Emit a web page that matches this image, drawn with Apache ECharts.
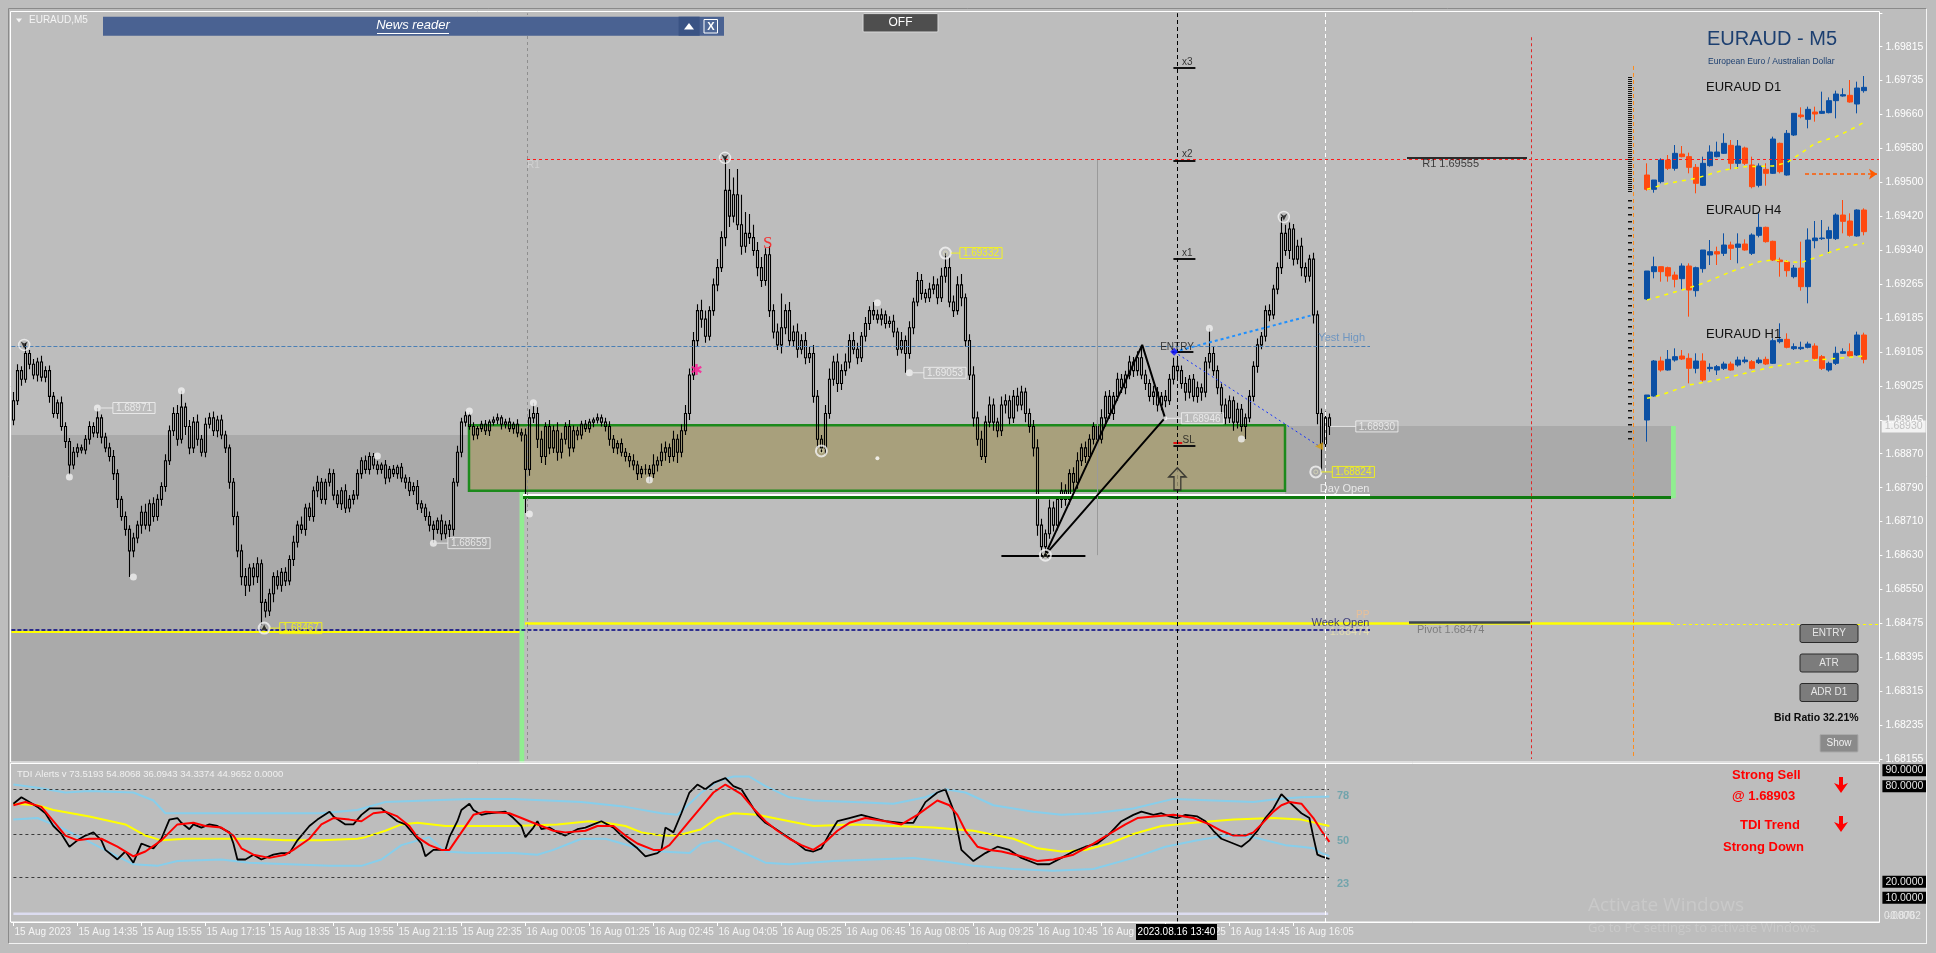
<!DOCTYPE html>
<html><head><meta charset="utf-8">
<script src="https://cdn.jsdelivr.net/npm/echarts@6/dist/echarts.min.js"></script>
<style>html,body{margin:0;padding:0;background:#bdbdbd;overflow:hidden}#c{width:1936px;height:953px}</style>
</head><body><div id="c"></div>
<script>
// ---------- DATA (prices in points above 1.68000) ----------
const BASE = 1.68;
const firstOpen = 945;
const closes = [
990,1060,1040,1100,1075,1050,1080,1045,1060,1000,
960,985,930,895,840,870,880,875,900,930,
915,950,905,880,860,820,760,720,690,640,
670,700,730,700,750,720,760,790,850,920,
960,900,975,930,880,940,900,870,935,950,
920,945,910,880,800,720,640,580,560,600,
580,610,520,500,540,580,560,590,570,620,
660,700,690,740,720,780,800,760,800,820,
770,750,780,740,760,770,820,850,830,860,
840,830,840,810,830,820,835,810,800,780,
790,750,740,720,700,690,710,680,700,690,
800,870,940,955,930,910,925,935,920,940,
945,950,935,940,925,935,915,910,830,950,
960,900,860,930,880,920,870,900,930,880,
920,910,935,925,940,945,950,940,930,900,
880,890,870,860,850,840,820,830,830,820,
840,850,870,880,860,900,870,920,960,1050,
1130,1200,1180,1140,1200,1260,1300,1370,1480,1420,
1470,1400,1350,1380,1370,1340,1300,1270,1330,1200,
1150,1120,1160,1200,1130,1150,1110,1130,1090,1100,
1000,900,880,960,1040,1080,1030,1060,1080,1130,
1110,1090,1140,1170,1200,1190,1180,1190,1170,1175,
1150,1110,1130,1100,1160,1220,1270,1240,1230,1250,
1260,1230,1280,1300,1220,1200,1260,1230,1130,1050,
950,900,860,940,980,940,920,980,990,950,
1000,980,1010,960,930,880,700,650,680,740,
700,760,780,760,820,800,850,880,860,900,
930,900,950,1000,960,1000,1040,1020,1050,1080,
1060,1090,1050,1030,1000,1010,980,1000,990,1040,
1070,1060,1030,1010,1040,1000,1020,1010,1080,1100,
1060,1020,980,950,990,940,970,930,950,1000,
1070,1120,1140,1200,1190,1250,1300,1380,1340,1390,
1320,1350,1300,1280,1320,1190,960,890,950,930
];
const upperWicks = [
20,15,10,24,8,12,10,15,10,12, 10,8,15,10,8,12,10,8,10,12, 10,23,8,10,12,15,10,8,12,10,
12,10,15,20,10,15,12,10,15,12, 15,20,38,10,15,12,18,10,15,12, 15,10,12,10,8,10,12,15,20,10,
12,15,10,8,12,10,15,10,12,10, 15,10,20,10,12,10,15,10,8,12, 10,12,8,15,10,12,10,8,12,10,
8,10,6,12,8,10,6,10,8,12, 10,15,8,10,12,10,8,15,10,12, 10,15,10,10,8,10,6,8,10,6,
8,10,6,8,10,6,12,10,15,20, 25,15,20,10,15,12,20,15,10,15, 12,10,8,10,8,6,10,8,10,12,
10,8,12,10,8,15,10,8,12,10, 25,10,20,15,10,20,12,15,20,15, 20,15,25,20,10,15,20,15,76,50,
40,60,70,50,45,30,20,25,15,20, 15,20,80,15,20,15,20,15,20,15, 20,15,10,20,25,15,20,15,20,15,
20,15,10,15,10,20,12,15,10,12, 15,10,20,12,15,10,20,15,10,15, 20,15,20,33,25,15,20,25,10,15,
20,15,20,15,20,15,10,20,15,12, 15,20,15,10,12,15,20,15,10,20, 15,10,20,15,10,15,20,10,15,12,
10,15,20,12,15,10,15,12,10,15, 12,15,30,12,10,15,12,10,15,12, 20,15,12,15,10,12,15,10,12,59,
15,12,10,15,12,10,15,12,10,15, 12,15,10,12,15,10,12,38,20,15, 12,15,20,12,10,15,10,12,15,10
];
const lowerWicks = [
12,10,15,8,12,10,15,10,12,15, 10,12,10,15,23,10,12,8,10,12, 10,12,15,10,12,15,20,10,15,61,
15,12,20,10,15,12,10,15,12,10, 12,15,10,20,15,12,15,10,12,10, 12,15,10,12,15,20,15,20,25,15,
20,15,53,15,12,20,10,15,12,10, 15,12,10,15,10,12,15,10,12,10, 12,10,15,12,10,12,10,12,10,12,
10,12,10,15,10,8,12,10,15,12, 10,15,12,10,15,31,10,15,12,20, 15,10,12,10,8,12,10,8,10,12,
8,10,12,10,8,12,10,15,102,15, 12,20,15,20,15,12,20,15,12,20, 10,12,10,8,10,12,8,10,12,15,
12,15,10,12,15,12,15,10,12,20, 10,15,12,20,15,12,25,12,10,15, 12,15,20,15,10,12,15,10,20,25,
15,12,20,15,15,12,20,15,12,15, 15,12,20,15,12,15,20,12,15,12, 15,20,10,15,12,15,20,15,12,15,
12,15,10,12,15,12,10,15,12,10, 12,15,10,45,12,15,10,15,12,10, 12,15,10,15,12,15,10,20,15,12,
20,15,8,15,12,20,15,12,20,15, 12,15,12,20,15,20,25,20,20,12, 15,12,20,15,12,20,15,12,15,10,
12,15,10,20,12,15,10,12,15,10, 15,12,10,15,12,20,15,12,15,10, 12,15,12,20,15,12,15,20,12,15,
12,15,20,15,12,20,15,12,29,10, 12,15,10,12,15,10,12,15,12,20, 15,12,20,15,12,20,25,66,15,20
];
const priceTicks = ['1.68155','1.68235','1.68315','1.68395','1.68475','1.68550','1.68630','1.68710','1.68790','1.68870','1.68945','1.69025','1.69105','1.69185','1.69265','1.69340','1.69420','1.69500','1.69580','1.69660','1.69735','1.69815'];
const timeTicks = ['15 Aug 2023','15 Aug 14:35','15 Aug 15:55','15 Aug 17:15','15 Aug 18:35','15 Aug 19:55','15 Aug 21:15','15 Aug 22:35','16 Aug 00:05','16 Aug 01:25','16 Aug 02:45','16 Aug 04:05','16 Aug 05:25','16 Aug 06:45','16 Aug 08:05','16 Aug 09:25','16 Aug 10:45','16 Aug 12:05','16 Aug 13:25','16 Aug 14:45','16 Aug 16:05'];
const currentPrice = 1.68930;

// TDI readings [bar, value]
const tdiBlack = [[0,69],[2,73],[4,70],[6,67],[8,63],[10,55],[12,50],[14,42],[16,46],[18,49],[20,51],[22,46],[23,40],[26,34],[28,39],[30,32],[32,44],[35,41],[37,47],[39,59],[41,60],[42,57],[44,53],[45,56],[47,54],[49,56],[51,55],[54,51],[55,44],[56,34],[58,34],[60,37],[62,34],[65,37],[67,38],[69,38],[71,46],[74,55],[76,59],[79,64],[80,61],[83,56],[85,56],[87,62],[89,66],[92,66],[94,62],[96,58],[98,56],[100,50],[102,44],[103,36],[105,40],[107,40],[108,40],[109,48],[111,58],[112,65],[114,69],[115,65],[117,62],[119,63],[123,64],[125,60],[127,55],[128,48],[130,54],[131,58],[132,53],[134,54],[136,51],[138,49],[141,53],[143,54],[145,56],[147,58],[150,54],[152,49],[154,45],[156,41],[158,36],[161,38],[162,40],[163,54],[165,51],[167,63],[169,76],[171,81],[173,78],[175,82],[178,85],[180,80],[182,78],[184,70],[186,62],[188,57],[190,54],[193,49],[196,44],[198,40],[200,39],[202,41],[204,50],[206,58],[209,60],[212,62],[215,60],[218,58],[222,57],[225,57],[228,70],[231,76],[233,78],[235,65],[237,40],[240,33],[243,38],[246,42],[249,40],[252,35],[256,31],[259,31],[262,35],[265,39],[268,42],[271,44],[274,50],[277,58],[280,62],[282,64],[285,62],[287,63],[289,61],[291,60],[293,62],[296,61],[298,58],[300,52],[302,47],[305,44],[307,42],[309,46],[311,52],[313,60],[315,66],[317,75],[319,70],[322,63],[324,60],[325,48],[326,37],[327,36],[329,34.3]];
const tdiRed = [[0,68],[3,70],[7,67],[10,58],[13,49],[16,46],[19,47],[22,47],[26,42],[30,36],[33,39],[37,46],[41,56],[45,57],[48,55],[52,54],[55,49],[57,41],[60,37],[64,35],[68,37],[70,40],[74,47],[77,56],[80,60],[84,59],[87,58],[90,63],[93,64],[96,61],[99,55],[101,48],[104,43],[107,40],[109,40],[112,51],[115,62],[118,64],[124,63],[127,60],[129,58],[132,55],[135,52],[138,51],[143,52],[146,55],[150,55],[153,49],[156,44],[160,40],[162,40],[164,43],[166,49],[169,58],[172,67],[175,76],[178,81],[182,75],[185,66],[188,58],[191,52],[194,47],[197,43],[200,40],[203,45],[206,52],[209,57],[213,60],[218,58],[222,56],[226,62],[231,71],[234,68],[236,62],[238,52],[241,42],[244,40],[247,39],[252,36],[256,33],[260,34],[265,37],[270,44],[274,50],[278,56],[281,60],[285,61],[290,62],[295,60],[299,56],[302,52],[305,49],[308,49],[310,51],[312,56],[315,64],[317,68],[319,70],[322,69],[325,60],[327,52],[329,45]];
const tdiYellow = [[0,69],[6,68],[10,65],[19,61],[28,56],[33,49],[37,46],[43,47],[52,47],[59,47],[68,46],[77,46],[86,47],[88,48],[93,52],[97,56],[101,57],[108,55],[115,55],[125,55],[136,56],[144,58],[148,57],[153,55],[157,51],[162,49],[166,49],[172,53],[176,60],[180,63],[186,62],[194,58],[200,55],[210,56],[220,55],[230,54],[240,52],[250,47],[256,41],[262,39],[268,40],[274,44],[280,50],[287,55],[295,57],[305,59],[315,60],[322,59],[329,55]];
const tdiUpper = [[0,81],[6,79],[13,76],[19,77],[30,76],[35,71],[38,63],[47,63],[59,63],[69,63],[77,63],[86,65],[93,70],[103,71],[114,72],[125,72],[142,70],[153,67],[162,63],[166,62],[169,69],[172,76],[176,83],[180,86],[184,86],[188,80],[194,73],[200,71],[210,70],[220,69],[228,73],[233,78],[238,76],[245,68],[255,64],[262,62],[270,63],[280,66],[290,72],[300,71],[310,70],[316,72],[322,73],[329,73.5]];
const tdiLower = [[0,59],[6,60],[11,55],[19,45],[26,36],[30,31],[36,30],[41,33],[52,34],[59,32],[69,31],[79,30],[87,30],[92,34],[97,43],[104,48],[108,39],[114,38],[125,38],[131,37],[135,40],[142,47],[148,47],[155,42],[162,39],[169,38],[172,44],[176,46],[182,39],[188,32],[194,31],[205,33],[215,34],[225,35],[232,33],[240,30],[250,28],[260,27],[270,28],[280,35],[288,42],[296,46],[303,49],[310,48],[318,43],[322,42],[325,41],[327,38],[329,36]];
const tdiZero = [[0,0],[328.7,0]];

// mini charts [open, close, low, high] in relative levels
const d1Candles = [[675,632,628,710],[632,660,622,660],[655,720,650,725],[720,695,690,735],[695,740,688,765],[738,730,728,762],[730,698,680,742],[698,650,620,708],[644,710,642,730],[703,744,700,764],[730,744,728,775],[740,770,738,800],[764,710,692,780],[710,762,694,780],[756,710,705,760],[705,640,635,730],[644,702,638,710],[692,680,643,710],[680,783,678,790],[770,685,680,772],[675,800,673,810],[795,860,792,860],[855,850,845,878],[842,872,815,880],[864,858,835,880],[860,866,858,925],[862,898,860,908],[898,918,845,928],[912,916,910,935],[914,894,892,960],[888,936,860,955],[928,938,922,972]];
const h4Candles = [[303,387,300,387],[385,400,365,430],[400,385,355,400],[397,372,355,400],[375,362,338,385],[364,402,332,410],[402,330,250,410],[328,397,310,400],[394,450,382,450],[435,445,405,480],[445,438,405,460],[440,465,432,500],[465,455,420,475],[458,468,410,500],[468,450,448,482],[440,495,435,500],[494,518,488,560],[518,475,472,520],[476,420,417,478],[420,415,370,427],[414,388,370,420],[370,396,365,405],[396,340,328,475],[340,480,290,515],[478,486,455,537],[484,486,480,540],[485,508,440,520],[484,555,480,560],[555,536,500,600],[537,494,490,560],[492,570,490,572],[570,505,494,575]];
const h1Candles = [[-60,15,-125,15],[12,117,10,120],[117,90,85,130],[90,122,88,150],[120,130,115,155],[132,123,120,150],[125,95,50,140],[95,117,80,140],[117,60,55,140],[94,98,85,110],[90,100,75,105],[95,108,90,115],[108,90,88,115],[105,120,100,130],[115,120,110,130],[115,95,92,120],[112,120,108,128],[122,108,105,130],[110,178,108,185],[175,182,170,230],[182,158,155,200],[154,160,150,170],[154,158,150,175],[158,168,155,175],[162,125,120,170],[130,95,90,135],[90,110,85,115],[110,140,105,160],[140,145,138,155],[145,132,130,170],[135,195,132,205],[195,122,110,202]];
const d1Ma = [[0,632],[3,650],[7,665],[11,690],[14,700],[18,702],[20,712],[22,740],[24,770],[27,790],[29,810],[31,833]];
const h4Ma = [[0,300],[5,330],[8,350],[12,385],[16,415],[18,420],[22,412],[24,427],[27,450],[29,462],[31,470]];
const h1Ma = [[0,5],[2,15],[6,45],[10,60],[14,80],[18,100],[23,118],[30,130],[31,132]];

// ---------- BUILD ----------
const P = v => +(BASE + v / 1e5).toFixed(5);
const candles = closes.map((c, i) => {
  const o = i === 0 ? firstOpen : closes[i - 1];
  return [P(o), P(c), P(Math.min(o, c) - lowerWicks[i]), P(Math.max(o, c) + upperWicks[i])];
});
const NCAT = 467;
const cats = Array.from({length: NCAT}, (_, i) => 'b' + i);
const showTime = i => i % 16 === 0 && i / 16 < timeTicks.length;
const YMIN = 1.68155, YMAX = 1.69893, YINT = 0.0166 / 21;
const NOLINE = {color: 'rgba(0,0,0,0)', width: 1};

const seg = (x1, y1, x2, y2, ls, label) => [{coord: [x1, y1], lineStyle: ls, label: label || {show: false}}, {coord: [x2, y2]}];
const area = (x1, y1, x2, y2, st) => [{coord: [x1, y1], itemStyle: st}, {coord: [x2, y2]}];

const mainLines = [
  seg(-0.5, 1.69118, 339.15, 1.69118, {color: '#4a7fb5', type: [4, 2], width: 1}),
  seg(128.4, 1.69552, 466.5, 1.69552, {color: '#ff1a1a', type: [3, 3], width: 1}),
  seg(348.4, 1.69556, 378.4, 1.69556, {color: '#2a2a2a', type: 'solid', width: 2}),
  seg(127.4, 1.68765, 414.4, 1.68765, {color: '#0f7a0f', type: 'solid', width: 3}),
  seg(127.4, 1.68770, 339.15, 1.68770, {color: '#ffffff', type: 'solid', width: 2}),
  seg(-0.5, 1.68451, 126.55, 1.68451, {color: '#ffff00', type: 'solid', width: 2}),
  seg(127.9, 1.68472, 414.4, 1.68472, {color: '#ffff00', type: 'solid', width: 2.5}),
  seg(414.4, 1.68468, 466.5, 1.68468, {color: '#ffff00', type: [3, 3], width: 1}),
  seg(348.9, 1.68473, 379.2, 1.68473, {color: '#3c4650', type: 'solid', width: 2.5}),
  seg(-0.5, 1.68456, 339.15, 1.68456, {color: '#000080', type: [4, 2], width: 1.5}),
  seg(379.4, 1.69837, 379.4, YMIN, {color: '#e02828', type: [3, 3], width: 1}),
  seg(405, 1.69770, 405, YMIN, {color: '#ff8c1a', type: [4, 3], width: 1}),
  seg(271.05, 1.69551, 271.05, 1.68630, {color: '#9a9a9a', type: 'solid', width: 1}),
  seg(247, 1.68629, 268, 1.68629, {color: '#000', type: 'solid', width: 2}),
  seg(290, 1.69765, 295.5, 1.69765, {color: '#111', type: 'solid', width: 2}),
  seg(290, 1.69550, 295.5, 1.69550, {color: '#111', type: 'solid', width: 2}),
  seg(290, 1.69320, 295.5, 1.69320, {color: '#111', type: 'solid', width: 2}),
  seg(289.7, 1.69104, 295, 1.69104, {color: '#111', type: 'solid', width: 2}),
  seg(290, 1.68891, 292.2, 1.68891, {color: '#e01010', type: 'solid', width: 2}),
  seg(290, 1.68885, 295.5, 1.68885, {color: '#111', type: 'solid', width: 2}),
  seg(290.2, 1.69104, 325, 1.69190, {color: '#1e90ff', type: [3, 3], width: 2}),
  seg(290.2, 1.69104, 326.4, 1.68884, {color: '#1030ff', type: [2, 3], width: 1}),
  [{coord: [447.9, 1.69518], lineStyle: {color: '#ff5a00', type: [4, 3], width: 1.5}, symbol: 'none', label: {show: false}}, {coord: [465.9, 1.69518], symbol: 'arrow', symbolSize: 8}],
  {xAxis: 128.4, lineStyle: {color: '#8e8e8e', type: [3, 3], width: 1}},
  {xAxis: 290.9, lineStyle: {color: '#000', type: [4, 3], width: 1}},
  {xAxis: 327.85, lineStyle: {color: '#ffffff', type: [4, 3], width: 1}}
];

const mainAreas = [
  area(-0.5, YMIN, 126.55, 1.68910, {color: '#aaaaaa'}),
  area(126.55, YMIN, 127.72, 1.68910, {color: '#90ee90'}),
  area(317.9, 1.68763, 414.4, 1.68931, {color: '#aaaaaa'}),
  area(414.4, 1.68763, 415.6, 1.68931, {color: '#90ee90'}),
  area(113.9, 1.68780, 317.9, 1.68933, {color: '#a8a07c', borderColor: '#1c8a1c', borderWidth: 2.5})
];

const whiteDots = [[14,1.68812],[30,1.68579],[42,1.69013],[91,1.68861],[114,1.68966],[129,1.68726],[130,1.68985],[159,1.68805],[216,1.69218],[299,1.69159],[307,1.68901],[21,1.68973],[105,1.68658],[224,1.69055]];
const smallDots = [[288,1.68949],[216,1.68856]];
const rings = [[202,1.68873],[233,1.69334],[325.6,1.68824],[258,1.68630],[62.7,1.68460]];
const downMarks = [[2.7,1.69120],[177.9,1.69556],[317.6,1.69418]];
const upMarks = [[62.7,1.68460],[258,1.68630]];

function priceBox(at, text, col, conn, off) {
  return {value: at, label: {position: [off, 0], formatter: '{l|}{b|' + text + '}',
    rich: {l: {width: conn, height: 1, backgroundColor: col},
           b: {color: col, borderColor: col, borderWidth: 1, padding: [1, 3, 0, 3], fontSize: 10, lineHeight: 12}}}};
}
const boxLabels = [
  priceBox([21,1.68973], '1.68971', '#f4f4f4', 12, 3.5),
  priceBox([105,1.68658], '1.68659', '#f4f4f4', 11, 3.5),
  priceBox([224,1.69055], '1.69053', '#f4f4f4', 11, 3.5),
  priceBox([288,1.68949], '1.68946', '#f4f4f4', 14, 2),
  priceBox([233,1.69334], '1.69332', '#ffff00', 9, 5.5),
  priceBox([325.6,1.68824], '1.68824', '#ffff00', 11, 5.5),
  priceBox([62.7,1.68460], '1.68467', '#ffff00', 10, 5.5),
  priceBox([329.1,currentPrice], currentPrice.toFixed(5), '#f4f4f4', 26, 0)
];

function txt(at, t, c, align, fs, extra) {
  return {value: at, label: Object.assign({formatter: t, color: c, align: align, fontSize: fs}, extra || {})};
}
const mainTexts = [
  txt([337.9,1.69136], 'Yest High', '#5b8cc2', 'right', 11),
  txt([339,1.68784], 'Day Open', '#f8f8f8', 'right', 11),
  txt([339,1.68473], 'Week Open', '#1c1c6c', 'right', 11),
  txt([339,1.68451], '1.68474', 'rgba(240,232,170,0.85)', 'right', 11),
  txt([339,1.68491], 'PP', '#f2c090', 'right', 10),
  txt([128.4,1.69538], 'R1', '#d6d6d6', 'left', 10),
  txt([352.2,1.69541], 'R1 1.69555', '#1a1a1a', 'left', 11),
  txt([350.9,1.68456], 'Pivot 1.68474', '#6e6e6e', 'left', 11),
  txt([293.5,1.69779], 'x3', '#111', 'center', 10),
  txt([293.5,1.69564], 'x2', '#111', 'center', 10),
  txt([293.5,1.69334], 'x1', '#111', 'center', 10),
  txt([290.9,1.69115], 'ENTRY', '#111', 'center', 10),
  txt([292.3,1.68898], 'SL', '#111', 'left', 10),
  txt([170.8,1.69058], '✱', '#ff1493', 'center', 15, {fontFamily: 'DejaVu Sans'}),
  txt([188.6,1.69357], 'S', '#ff1010', 'center', 17, {fontFamily: 'Liberation Serif'})
];
// current-price tag on the price scale (just right of the plot edge)
const axisTag = [txt([467.07, currentPrice], currentPrice.toFixed(5), '#b4b4b4', 'left', 10.5,
  {backgroundColor: '#ffffff', padding: [1, 3, 0, 3]})];
const tdiTexts = [
  txt([330.9,74.0], '78', '#5f9ea8', 'left', 11, {fontWeight: 'bold'}),
  txt([330.9,45.8], '50', '#5f9ea8', 'left', 11, {fontWeight: 'bold'}),
  txt([330.9,18.6], '23', '#5f9ea8', 'left', 11, {fontWeight: 'bold'})
];

const lvl = (v) => seg(0, v, 328.9, v, {color: '#3a3a3a', type: [3, 3], width: 1});
const rLab = (v, t) => ({yAxis: v, lineStyle: NOLINE, label: {show: true, position: 'end', distance: 3, formatter: t, backgroundColor: '#000', color: '#e6e6e6', padding: [1, 3, 0, 3], fontSize: 10.5}});

// ---------- GRAPHIC (UI chrome) ----------
const F = 'Liberation Sans';
const T = (x, y, text, fill, size, opts) => Object.assign({type: 'text', z: 100, x: x, y: y,
  style: Object.assign({text: text, fill: fill, font: (opts && opts.w ? opts.w + ' ' : '') + size + 'px ' + ((opts && opts.f) || F),
    align: (opts && opts.a) || 'left', textAlign: (opts && opts.a) || 'left', verticalAlign: 'middle', textVerticalAlign: 'middle'})});
const L = (x1, y1, x2, y2, c, w, dash) => ({type: 'line', z: 100, shape: {x1, y1, x2, y2}, style: {stroke: c, lineWidth: w || 1, lineDash: dash || null}});
const R = (x, y, w, h, fill, stroke, r, z) => ({type: 'rect', z: z == null ? 100 : z, shape: {x, y, width: w, height: h, r: r || 0}, style: {fill: fill, stroke: stroke || null, lineWidth: 1}});
const arrowDown = (cx, ty) => ({type: 'polygon', z: 100, shape: {points: [[cx-2,ty],[cx+2,ty],[cx+2,ty+8],[cx+7,ty+6],[cx,ty+16],[cx-7,ty+6],[cx-2,ty+8]]}, style: {fill: '#ff0000'}});

const graphics = [
  R(11.4, 759, 508.2, 3.5, '#aaaaaa', null, 0, 0),
  R(519.6, 759, 4.7, 3.5, '#90ee90', null, 0, 0),
  L(8.5, 8.5, 1927, 8.5, '#8a8a8a'), L(8.5, 8.5, 8.5, 944, '#8a8a8a'),
  L(1926.5, 8.5, 1926.5, 944, '#f2f2f2'), L(8.5, 943.5, 1926.5, 943.5, '#f2f2f2'),
  R(10.5, 11.5, 1869, 750.5, null, '#ffffff'),
  R(10.5, 763.5, 1869, 158.5, null, '#ffffff'),
  {type: 'polygon', z: 100, shape: {points: [[16,18.5],[22,18.5],[19,22.5]]}, style: {fill: '#f4f4f4'}},
  T(29, 20.7, 'EURAUD,M5', '#f4f4f4', 10),
  R(103, 16.7, 621, 19, '#4a6292'),
  R(678.6, 16.7, 21, 19, '#3a5384'),
  {type: 'polygon', z: 101, shape: {points: [[684,29.5],[694,29.5],[689,23]]}, style: {fill: '#ffffff'}},
  R(704, 19.5, 13.5, 13.5, '#4f6897', '#ffffff'),
  T(710.8, 26.5, 'X', '#ffffff', 11, {a: 'center', w: 'bold'}),
  T(413, 25.6, 'News reader', '#ffffff', 13, {a: 'center', w: 'italic'}),
  L(377, 33.5, 449, 33.5, '#ffffff', 1),
  R(863, 13.6, 75, 18.4, '#4e4e4e', '#d8d8d8', 1),
  T(900.5, 23, 'OFF', '#ffffff', 12, {a: 'center'}),
  T(1707, 39, 'EURAUD - M5', '#1c3f70', 20),
  T(1708, 61.4, 'European Euro / Australian Dollar', '#1c3f70', 8.5),
  T(1706, 87, 'EURAUD D1', '#111111', 13),
  T(1706, 210, 'EURAUD H4', '#111111', 13),
  T(1706, 334, 'EURAUD H1', '#111111', 13),
  L(1630, 77, 1630, 193, '#111111', 4, [1, 1]),
  L(1630, 200, 1630, 442, '#111111', 4, [1.5, 5.5]),
  R(1800, 624.5, 58, 18, '#7c7c7c', '#2a2a2a', 2), T(1829, 633.5, 'ENTRY', '#e6e6e6', 10, {a: 'center'}),
  R(1800, 654, 58, 18, '#7c7c7c', '#2a2a2a', 2), T(1829, 663, 'ATR', '#e6e6e6', 10, {a: 'center'}),
  R(1800, 683.5, 58, 18, '#7c7c7c', '#2a2a2a', 2), T(1829, 692.5, 'ADR D1', '#e6e6e6', 10, {a: 'center'}),
  T(1774, 718.6, 'Bid Ratio 32.21%', '#0a0a0a', 10.5, {w: 'bold'}),
  R(1820, 734.5, 38, 17.5, '#8a8a8a', '#aaaaaa', 1), T(1839, 743.3, 'Show', '#f0f0f0', 10, {a: 'center'}),
  T(17, 774.3, 'TDI Alerts v 73.5193 54.8068 36.0943 34.3374 44.9652 0.0000', '#f0f0f0', 9.5),
  T(1732, 775, 'Strong Sell', '#ff0000', 13, {w: 'bold'}),
  T(1732, 796.7, '@ 1.68903', '#ff0000', 13, {w: 'bold'}),
  T(1740, 825, 'TDI Trend', '#ff0000', 13, {w: 'bold'}),
  T(1723, 847.3, 'Strong Down', '#ff0000', 13, {w: 'bold'}),
  arrowDown(1841, 777), arrowDown(1841, 816),
  T(1884, 916, '0.0000', '#e8e8e8', 10), T(1887, 916, '-0.8762', '#e8e8e8', 10),
  R(1136, 924, 81, 16, '#000000'),
  T(1176.5, 932.3, '2023.08.16 13:40', '#ffffff', 10, {a: 'center'}),
  T(1588, 906, 'Activate Windows', '#c9c9c9', 19, {f: 'Open Sans'}),
  T(1588, 928, 'Go to PC settings to activate Windows.', '#c9c9c9', 13, {f: 'Open Sans'})
];

const hidden = {show: false};
const option = {
  animation: false,
  backgroundColor: '#bdbdbd',
  textStyle: {fontFamily: F},
  grid: [
    {left: 11.4, top: 13.2, width: 1868, height: 745.8, containLabel: false, outerBoundsMode: 'none'},
    {left: 11.4, top: 763, width: 1868, height: 159, containLabel: false, outerBoundsMode: 'none'},
    {left: 1643.5, top: 60, width: 224, height: 390, containLabel: false, outerBoundsMode: 'none'}
  ],
  xAxis: [
    {type: 'category', gridIndex: 0, data: cats, boundaryGap: true, show: false},
    {type: 'value', gridIndex: 0, min: -0.5, max: 466.5, show: false},
    {type: 'category', gridIndex: 1, data: cats, boundaryGap: true, position: 'bottom',
      axisLine: {show: true, onZero: false, lineStyle: {color: '#ffffff', width: 1}},
      axisTick: {show: true, length: 4, alignWithLabel: true, interval: (i) => showTime(i), lineStyle: {color: '#ffffff'}},
      axisLabel: {show: true, interval: (i) => showTime(i), formatter: (v, i) => showTime(i) ? timeTicks[i / 16] : '', align: 'left', color: '#f4f4f4', fontSize: 10, margin: 5, padding: [0, 0, 0, 1]},
      splitLine: hidden},
    {type: 'value', gridIndex: 1, min: -0.5, max: 466.5, show: false},
    {type: 'category', gridIndex: 2, data: d1Candles.map((_, i) => 'm' + i), boundaryGap: true, show: false}
  ],
  yAxis: [
    {type: 'value', gridIndex: 0, position: 'right', min: YMIN, max: YMAX, interval: YINT, scale: true,
      axisLine: {show: false, onZero: false}, splitLine: hidden,
      axisTick: {show: true, inside: false, length: 3, lineStyle: {color: '#ffffff'}},
      axisLabel: {show: true, color: '#ffffff', fontSize: 10.5, margin: 6, formatter: (v) => {
        const k = Math.round((v - YMIN) / YINT);
        return (k >= 0 && k < priceTicks.length && Math.abs(v - (YMIN + k * YINT)) < YINT / 10) ? priceTicks[k] : '';
      }}},
    {type: 'value', gridIndex: 1, position: 'right', min: -5.21, max: 94.51, show: false, axisLine: {onZero: false}},
    {type: 'value', gridIndex: 2, min: -150, max: 1020, show: false, axisLine: {onZero: false}}
  ],
  series: [
    {type: 'line', name: 'areas', xAxisIndex: 1, yAxisIndex: 0, data: [[-5, 1.689]], showSymbol: false, lineStyle: {opacity: 0},
      markArea: {silent: true, z: 1, data: mainAreas}},
    {type: 'candlestick', name: 'EURAUD,M5', xAxisIndex: 0, yAxisIndex: 0, data: candles, barWidth: 3, z: 3,
      itemStyle: {color: 'rgba(0,0,0,0)', color0: 'rgba(0,0,0,0)', borderColor: '#000', borderColor0: '#000', borderColorDoji: '#000', borderWidth: 1.1}},
    {type: 'line', name: 'lines', xAxisIndex: 1, yAxisIndex: 0, data: [[-5, 1.689]], showSymbol: false, lineStyle: {opacity: 0},
      markLine: {silent: true, symbol: ['none', 'none'], z: 5, label: {show: false}, data: mainLines}},
    {type: 'line', name: 'abc', xAxisIndex: 1, yAxisIndex: 0, z: 5, showSymbol: false,
      data: [[257.9,1.68630],[282.2,1.69120],[287.9,1.68950],[257.9,1.68630]], lineStyle: {color: '#000', width: 2}},
    {type: 'scatter', xAxisIndex: 1, yAxisIndex: 0, z: 6, data: whiteDots, symbolSize: 7, itemStyle: {color: '#f0f0f0'}},
    {type: 'scatter', xAxisIndex: 1, yAxisIndex: 0, z: 6, data: smallDots, symbolSize: 4, itemStyle: {color: '#ffffff'}},
    {type: 'scatter', xAxisIndex: 1, yAxisIndex: 0, z: 6, data: rings, symbolSize: 11, itemStyle: {color: 'rgba(0,0,0,0)', borderColor: '#f4f4f4', borderWidth: 2}},
    {type: 'scatter', xAxisIndex: 1, yAxisIndex: 0, z: 6, data: rings, symbolSize: 4, itemStyle: {color: 'rgba(0,0,0,0)', borderColor: '#d8d8b8', borderWidth: 1}},
    {type: 'scatter', xAxisIndex: 1, yAxisIndex: 0, z: 6, data: downMarks, symbolSize: 11, itemStyle: {color: 'rgba(0,0,0,0)', borderColor: '#f4f4f4', borderWidth: 1.5}},
    {type: 'scatter', xAxisIndex: 1, yAxisIndex: 0, z: 7, data: downMarks, symbol: 'path://M0,0 L5,3 L10,0 L5,10 Z', symbolSize: 7, itemStyle: {color: '#111'}},
    {type: 'scatter', xAxisIndex: 1, yAxisIndex: 0, z: 7, data: upMarks, symbol: 'path://M0,10 L5,7 L10,10 L5,0 Z', symbolSize: 7, itemStyle: {color: '#111'}},
    {type: 'scatter', xAxisIndex: 1, yAxisIndex: 0, z: 7, data: [[290.2,1.69104]], symbol: 'diamond', symbolSize: 8, itemStyle: {color: '#1010ff'}},
    {type: 'scatter', xAxisIndex: 1, yAxisIndex: 0, z: 7, data: [[326.4,1.68884]], symbol: 'triangle', symbolRotate: 90, symbolSize: 8, itemStyle: {color: '#d4a017'}},
    {type: 'scatter', xAxisIndex: 1, yAxisIndex: 0, z: 7, data: [[291,1.68808]], symbol: 'path://M5,0 L10,5 L7,5 L7,12 L3,12 L3,5 L0,5 Z', symbolSize: [17, 22], itemStyle: {color: '#a8a07c', borderColor: '#222', borderWidth: 1.5}},
    {type: 'scatter', xAxisIndex: 1, yAxisIndex: 0, z: 8, data: boxLabels, symbolSize: 0,
      label: {show: true, align: 'left', verticalAlign: 'middle'}},
    {type: 'scatter', xAxisIndex: 1, yAxisIndex: 0, z: 8, data: mainTexts, symbolSize: 0,
      label: {show: true, position: [0, 0], verticalAlign: 'middle'}},
    {type: 'scatter', xAxisIndex: 1, yAxisIndex: 0, z: 9, data: axisTag, symbolSize: 0, clip: false,
      label: {show: true, position: [0, 0], verticalAlign: 'middle'}},
    // TDI
    {type: 'line', xAxisIndex: 3, yAxisIndex: 1, data: tdiZero, showSymbol: false, lineStyle: {color: '#dcdcf0', width: 2.5},
      markLine: {silent: true, symbol: ['none', 'none'], label: {show: false},
        data: [lvl(78), lvl(50), lvl(23), rLab(90, '90.0000'), rLab(80, '80.0000'), rLab(20, '20.0000'), rLab(10, '10.0000'),
          {xAxis: 290.9, lineStyle: {color: '#000', type: [4, 3], width: 1}},
          {xAxis: 327.85, lineStyle: {color: '#ffffff', type: [4, 3], width: 1}}]}},
    {type: 'line', xAxisIndex: 3, yAxisIndex: 1, data: tdiUpper, showSymbol: false, lineStyle: {color: '#87ceeb', width: 2}},
    {type: 'line', xAxisIndex: 3, yAxisIndex: 1, data: tdiLower, showSymbol: false, lineStyle: {color: '#87ceeb', width: 2}},
    {type: 'line', xAxisIndex: 3, yAxisIndex: 1, data: tdiYellow, showSymbol: false, lineStyle: {color: '#ffff00', width: 2}},
    {type: 'line', xAxisIndex: 3, yAxisIndex: 1, data: tdiBlack, showSymbol: false, lineStyle: {color: '#000000', width: 1.8}},
    {type: 'line', xAxisIndex: 3, yAxisIndex: 1, data: tdiRed, showSymbol: false, lineStyle: {color: '#ff0000', width: 2}},
    {type: 'scatter', xAxisIndex: 3, yAxisIndex: 1, data: tdiTexts, symbolSize: 0, label: {show: true, position: [0, 0], verticalAlign: 'middle'}},
    // mini charts
    ...[d1Candles, h4Candles, h1Candles].map(d => ({type: 'candlestick', xAxisIndex: 4, yAxisIndex: 2, data: d, barWidth: 5,
      itemStyle: {color: '#0b50a4', color0: '#ff4a10', borderColor: '#0b50a4', borderColor0: '#ff4a10', borderColorDoji: '#555', borderWidth: 1}})),
    ...[d1Ma, h4Ma, h1Ma].map(d => ({type: 'line', xAxisIndex: 4, yAxisIndex: 2, data: d, showSymbol: false, z: 4,
      lineStyle: {color: '#ffff00', width: 1.5, type: [4, 5]}}))
  ],
  graphic: {elements: graphics}
};
const chart = echarts.init(document.getElementById('c'), null, {renderer: 'canvas'});
chart.setOption(option);
</script></body></html>
